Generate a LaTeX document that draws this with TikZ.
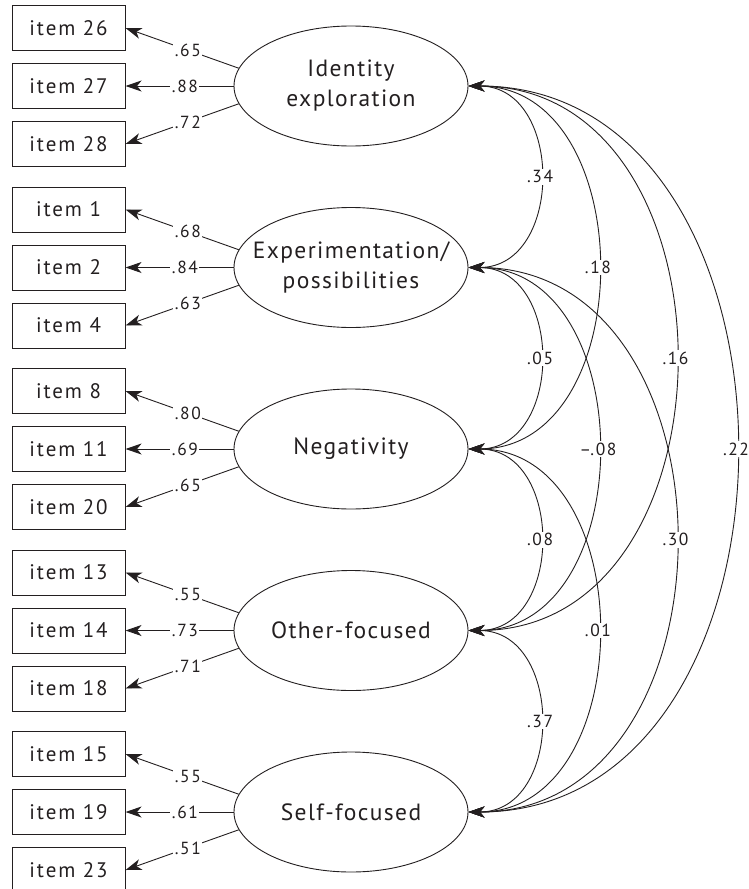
\documentclass[tikz,border=0pt]{standalone}
\usepackage{fontspec}
\setmainfont{PT Sans}
\newfontfamily\spaced[LetterSpace=9]{PT Sans}
\newfontfamily\fspaced[LetterSpace=6]{PT Sans}
\usetikzlibrary{arrows.meta,shapes.geometric,positioning}
\tikzset{>={Stealth[length=16pt,width=11pt,inset=4.5pt]}}
\definecolor{ink}{HTML}{231F20}

\begin{document}
\begin{tikzpicture}[x=1pt,y=-1pt,ink,line width=0.9pt,
	item/.style={draw,line width=1pt,minimum width=113pt,minimum height=45pt,inner sep=0pt,font=\spaced\fontsize{21}{25}\selectfont},
	factor/.style={ellipse,draw,minimum width=234pt,minimum height=120pt,inner sep=0pt},
	ftext/.style={align=center,font=\fspaced\fontsize{23.5}{30}\selectfont},
	coef/.style={fill=white,inner sep=1.5pt,font=\spaced\fontsize{17.5}{17.5}\selectfont}]

	\useasboundingbox (0,0) rectangle (748,889);

	% latent factors
	\node[factor,label={[ftext]center:Identity\\exploration}] (f1) at (351,86) {};
	\node[factor,label={[ftext]center:Experimentation/\\possibilities}] (f2) at (351,267.5) {};
	\node[factor,label={[ftext]center:Negativity}] (f3) at (351,449) {};
	\node[factor,label={[ftext]center:Other-focused}] (f4) at (351,630.5) {};
	\node[factor,label={[ftext]center:Self-focused}] (f5) at (351,812) {};

	% items and loadings
	\foreach \k/\a/\b/\c/\la/\lb/\lc in {1/26/27/28/.65/.88/.72, 2/1/2/4/.68/.84/.63,
		3/8/11/20/.80/.69/.65, 4/13/14/18/.55/.73/.71, 5/15/19/23/.55/.61/.51} {
		\node[item,left=108pt of f\k.west] (i\b) {item \b};
		\node[item,above=12pt of i\b] (i\a) {item \a};
		\node[item,below=12pt of i\b] (i\c) {item \c};
		\draw[->] (f\k.171) -- node[coef,pos=0.45]{\la} (i\a.east);
		\draw[->] (f\k.west) -- node[coef,pos=0.45]{\lb} (i\b.east);
		\draw[->] (f\k.189) -- node[coef,pos=0.45]{\lc} (i\c.east);
	}

	% factor correlations
	\foreach \p/\q/\l/\r in {1/2/1.35/.34, 1/3/1.22/.18, 1/4/1.3/.16, 1/5/1.26/.22,
		2/3/1.35/.05, 2/4/1.22/{–.08}, 2/5/1.3/.30, 3/4/1.35/.08, 3/5/1.22/.01, 4/5/1.35/.37} {
		\draw[<->] (f\p.east) to[out=0,in=0,looseness=\l] node[coef]{\r} (f\q.east);
	}
\end{tikzpicture}
\end{document}
